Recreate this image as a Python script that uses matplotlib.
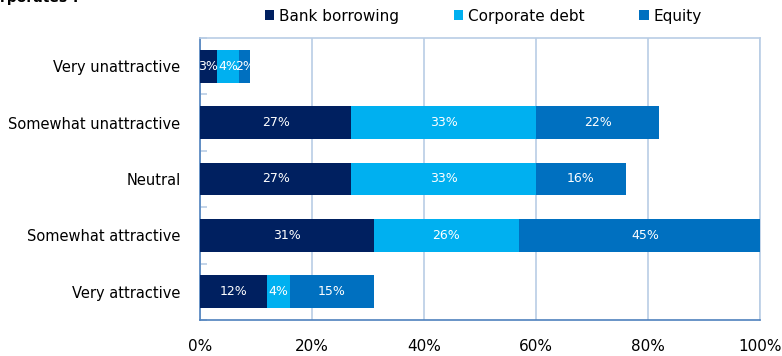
import matplotlib.pyplot as plt
import numpy as np
from matplotlib.patches import Patch

categories = ['Very unattractive', 'Somewhat unattractive', 'Neutral',
              'Somewhat attractive', 'Very attractive']
bank = [3, 27, 27, 31, 12]
corporate = [4, 33, 33, 26, 4]
equity = [2, 22, 16, 45, 15]

series_names = ['Bank borrowing', 'Corporate debt', 'Equity']
series_colors = ['#002060', '#00B0F0', '#0070C0']

grid_col = '#B9CDE5'
axis_col = '#4F81BD'

fig = plt.figure(figsize=(7.82, 3.56), dpi=100)
ax = fig.add_axes([200/782, 36/356, 560/782, 282/356])

y = np.arange(len(categories))
left = np.zeros(len(categories))
for vals, col in zip([bank, corporate, equity], series_colors):
    vals = np.array(vals, dtype=float)
    ax.barh(y, vals, left=left, height=0.58, color=col, zorder=3)
    for yi, l, v in zip(y, left, vals):
        ax.text(l + v / 2, yi, f'{int(v)}%', ha='center', va='center',
                color='white', fontsize=9, zorder=4)
    left += vals

ax.set_xlim(0, 100)
ax.set_ylim(len(categories) - 0.5, -0.5)
ax.set_xticks(np.arange(0, 101, 20))
ax.set_xticklabels([f'{v}%' for v in range(0, 101, 20)], fontsize=11)
ax.set_yticks(y)
ax.set_yticklabels(categories, fontsize=10.5)
ax.set_yticks(np.arange(-0.5, len(categories)), minor=True)

ax.tick_params(axis='x', length=0, pad=14)
ax.tick_params(axis='y', which='major', length=0, pad=14)
ax.tick_params(axis='y', which='minor', direction='in', length=5,
               color=grid_col, width=1.2)

ax.grid(axis='x', color=grid_col, linewidth=1.2, zorder=0)
for s in ['top', 'right']:
    ax.spines[s].set_color(grid_col)
    ax.spines[s].set_linewidth(1.2)
for s in ['left', 'bottom']:
    ax.spines[s].set_color(axis_col)
    ax.spines[s].set_linewidth(1.2)

handles = [Patch(facecolor=c) for c in series_colors]
fig.legend(handles, series_names, loc='center', bbox_to_anchor=(0.618, 0.955),
           ncol=3, frameon=False, fontsize=11, handlelength=0.6,
           handleheight=0.6, handletextpad=0.3, columnspacing=3.6)

fig.text(0.0, 1.005, 'rporates ?', fontsize=10, fontweight='bold',
         ha='left', va='center')

fig.savefig('out.png', dpi=100)
